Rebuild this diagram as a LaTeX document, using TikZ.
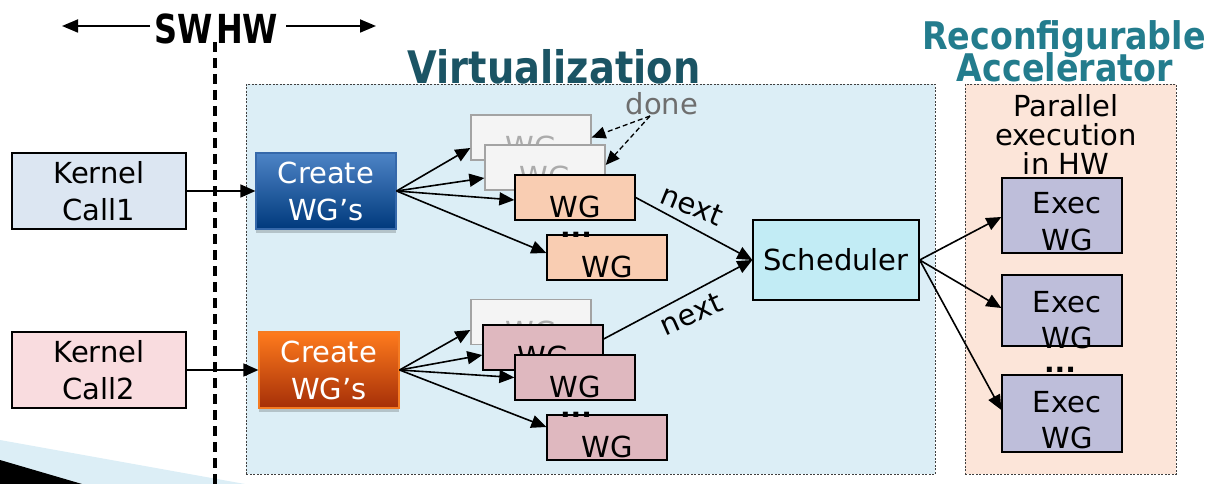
\documentclass[tikz,border=0pt]{standalone}
\usepackage{graphicx}
\usepackage{fontspec}
\setmainfont{DejaVu Sans}
\usetikzlibrary{arrows.meta,shadows,calc}

\definecolor{virtfill}{HTML}{DCEEF6}
\definecolor{accfill}{HTML}{FCE5D9}
\definecolor{kafill}{HTML}{DCE6F2}
\definecolor{kbfill}{HTML}{F9DCDF}
\definecolor{schedfill}{HTML}{C2ECF5}
\definecolor{execfill}{HTML}{BEBEDA}
\definecolor{wgsalmon}{HTML}{F9CDB2}
\definecolor{wgpink}{HTML}{DFB8BF}
\definecolor{ghostfill}{HTML}{F4F4F4}
\definecolor{ghostline}{HTML}{A3A3A3}
\definecolor{ghosttext}{HTML}{ABABAB}
\definecolor{titledark}{HTML}{1B5464}
\definecolor{titleteal}{HTML}{237C8D}
\definecolor{donegray}{HTML}{6E6E6E}
\definecolor{blueTop}{HTML}{4D84C6}
\definecolor{blueBot}{HTML}{00397C}
\definecolor{blueLine}{HTML}{3568AA}
\definecolor{orangeTop}{HTML}{FF7B1D}
\definecolor{orangeBot}{HTML}{A52F08}
\definecolor{orangeLine}{HTML}{F57B22}

\newcommand{\bodyfont}{\fontsize{29}{37}\selectfont}

\tikzset{
  panel/.style={draw=black!75, line width=0.7pt, dash pattern=on 2pt off 1.5pt,
                anchor=north west, inner sep=0pt},
  plainbox/.style={draw=black, line width=1.3pt, inner sep=0pt, align=center,
                   font=\bodyfont},
  wgbox/.style={plainbox, minimum width=120, minimum height=45},
  ghostbox/.style={wgbox, draw=ghostline, fill=ghostfill},
  execbox/.style={plainbox, fill=execfill, minimum width=120},
  createbox/.style={inner sep=0pt, align=center, font=\bodyfont, text=white,
                    line width=1.2pt, minimum width=140, minimum height=76,
                    drop shadow={shadow xshift=0pt, shadow yshift=-4pt,
                                 opacity=0.18, fill=black}},
  lbl/.style={anchor=base, inner sep=0pt, font=\bodyfont},
  heading/.style={anchor=base, inner sep=0pt},
  dots/.style={anchor=base, inner sep=0pt, font=\fontsize{28}{30}\selectfont\bfseries},
  arr/.style={-{Triangle[length=15pt,width=13pt]}, line width=1.6pt},
  donearr/.style={-{Triangle[length=14pt,width=12pt]}, line width=1.3pt,
                  dash pattern=on 5pt off 3pt},
}

\begin{document}
\begin{tikzpicture}[x=1pt,y=-1pt]
\useasboundingbox (0,0) rectangle (1213,484);

% corner decoration
\fill[virtfill] (0,440) -- (245,484) -- (0,484) -- cycle;
\fill[black] (0,460) -- (82,484) -- (0,484) -- cycle;

% SW / HW header
\node[heading, anchor=base east, font=\fontsize{40}{44}\selectfont\bfseries] (sw) at (213,44) {\scalebox{0.8}[1]{SW}};
\node[heading, anchor=base west, font=\fontsize{40}{44}\selectfont\bfseries] (hw) at (216,44) {\scalebox{0.8}[1]{HW}};
\coordinate (swend) at (62,26);
\coordinate (hwend) at (376,26);
\draw[-{Triangle[length=16pt,width=13pt]}, line width=1.8pt] (150,26) -- (swend);
\draw[-{Triangle[length=16pt,width=13pt]}, line width=1.8pt] (286,26) -- (hwend);

% panels
\node[panel, fill=virtfill, minimum width=689, minimum height=390] (virt) at (246,84) {};
\node[panel, fill=accfill, minimum width=211, minimum height=390] (accel) at (965,84) {};

% divider between software and hardware
\draw[line width=3.5pt, dash pattern=on 10pt off 6pt] (215,42) -- (215,484);

% titles
\node[heading, text=titledark, font=\fontsize{40}{44}\selectfont\bfseries] (virttitle) at (554,84) {\scalebox{0.96}[1.12]{Virtualization}};
\node[heading, text=titleteal, font=\fontsize{34}{38}\selectfont\bfseries] (acctitleA) at (1064,50) {\scalebox{0.98}[1.12]{Reconfigurable}};
\node[heading, text=titleteal, font=\fontsize{34}{38}\selectfont\bfseries] (acctitleB) at (1065,82) {\scalebox{0.98}[1.12]{Accelerator}};

% kernel calls
\node[plainbox, fill=kafill, minimum width=174, minimum height=76] (k1) at (99,191) {Kernel\\Call1};
\node[plainbox, fill=kbfill, minimum width=174, minimum height=76] (k2) at (99,370) {Kernel\\Call2};

% work-group creators
\node[createbox, draw=blueLine, top color=blueTop, bottom color=blueBot] (c1) at (326,191) {Create\\WG’s};
\node[createbox, draw=orangeLine, top color=orangeTop, bottom color=orangeBot] (c2) at (329,370) {Create\\WG’s};

\draw[arr] (k1.east) -- (c1.west);
\draw[arr] (k2.east) -- (c2.west);

% work groups of kernel call 1
\node[ghostbox] (g1) at (531,137.5) {};
\node[lbl, text=ghosttext] (g1t) at ([yshift=3pt]g1.south) {WG};
\node[ghostbox] (g2) at (545,167.5) {};
\node[lbl, text=ghosttext] (g2t) at ([yshift=3pt]g2.south) {WG};
\node[wgbox, fill=wgsalmon] (w3) at (575,197.5) {};
\node[lbl] (w3t) at ([yshift=3pt]w3.south) {WG};
\node[wgbox, fill=wgsalmon] (w4) at (607,257.5) {};
\node[lbl] (w4t) at ([yshift=3pt]w4.south) {WG};
\node[dots] (dotsA) at (576,237) {...};

% work groups of kernel call 2
\node[ghostbox] (g5) at (531,322) {};
\node[lbl, text=ghosttext] (g5t) at ([yshift=3pt]g5.south) {WG};
\node[wgbox, fill=wgpink] (p1) at (543,347.5) {};
\node[lbl] (p1t) at ([yshift=3pt]p1.south) {WG};
\node[wgbox, fill=wgpink] (p2) at (575,377.5) {};
\node[lbl] (p2t) at ([yshift=3pt]p2.south) {WG};
\node[wgbox, fill=wgpink] (p4) at (607,437.5) {};
\node[lbl] (p4t) at ([yshift=3pt]p4.south) {WG};
\node[dots] (dotsB) at (576,417) {...};

% fan-out to work groups
\draw[arr] (c1.east) -- ([yshift=-10.5pt]g1.west);
\draw[arr] (c1.east) -- ([yshift=-10.5pt]g2.west);
\draw[arr] (c1.east) -- ([yshift=-2.5pt]w3.west);
\draw[arr] (c1.east) -- ([yshift=4.5pt]w4.west);
\draw[arr] (c2.east) -- ([yshift=-8pt]g5.west);
\draw[arr] (c2.east) -- ([yshift=-7.5pt]p1.west);
\draw[arr] (c2.east) -- (p2.west);
\draw[arr] (c2.east) -- ([yshift=10.5pt]p4.west);

% finished work groups
\node[lbl, text=donegray] (done) at (662,115) {done};
\coordinate (donefoot) at (650,116);
\draw[donearr] (donefoot) -- (g1.east);
\draw[donearr] (donefoot) -- ([yshift=2.5pt]g2.east);

% scheduler
\node[plainbox, fill=schedfill, minimum width=166, minimum height=80] (sched) at (836,260) {Scheduler};
\draw[arr] (w3.east) -- (sched.west);
\draw[arr] ([yshift=8.5pt]p1.east) -- (sched.west);
\node[lbl, anchor=center, rotate=-22] (nextA) at (692,205) {next};
\node[lbl, anchor=center, rotate=24] (nextB) at (691,314) {next};

% accelerator
\node[lbl] (parA) at (1066,117) {Parallel};
\node[lbl] (parB) at (1066,146) {execution};
\node[lbl] (parC) at (1066,175) {in HW};

\node[execbox, minimum height=75] (e1) at (1062,215.5) {};
\node[lbl] (e1a) at (1067,213) {Exec};
\node[lbl] (e1b) at (1067,250) {WG};
\node[execbox, minimum height=71] (e2) at (1062,310.5) {};
\node[lbl] (e2a) at (1067,312) {Exec};
\node[lbl] (e2b) at (1067,348) {WG};
\node[execbox, minimum height=77] (e3) at (1062,413.5) {};
\node[lbl] (e3a) at (1067,412) {Exec};
\node[lbl] (e3b) at (1067,448) {WG};
\node[dots] (dotsC) at (1060,372) {...};

\draw[arr] (sched.east) -- ([yshift=-1.5pt]e1.west);
\draw[arr] (sched.east) -- ([yshift=2.5pt]e2.west);
\draw[arr] (sched.east) -- ([yshift=3.5pt]e3.west);
\end{tikzpicture}
\end{document}
